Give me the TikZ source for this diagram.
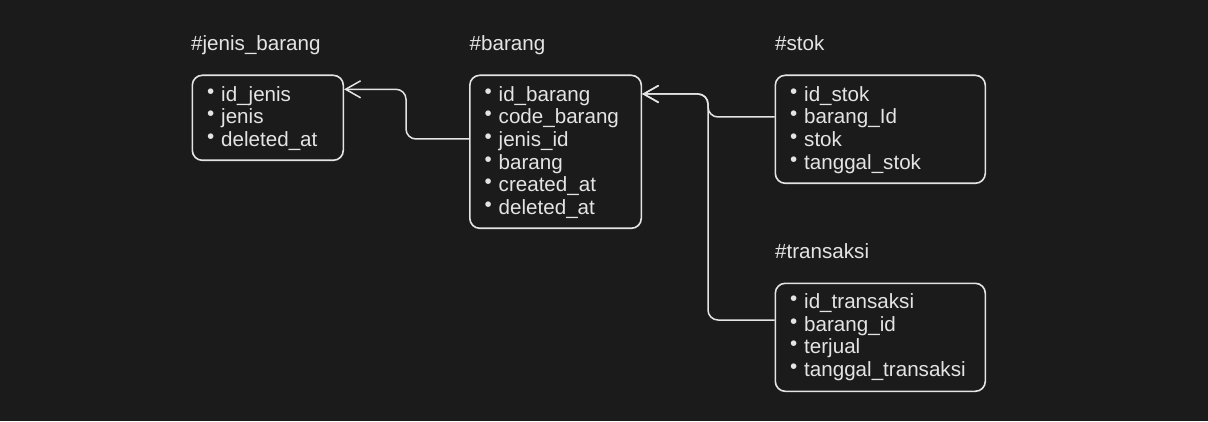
\documentclass[tikz,border=0pt]{standalone}
\usepackage{fontspec}
\setmainfont{Liberation Sans}
\usetikzlibrary{arrows.meta}
\definecolor{bg}{RGB}{27,27,27}
\definecolor{ink}{RGB}{228,228,228}
\newcommand\itembul{\makebox[14pt][l]{\raisebox{3pt}{•}}}
\begin{document}
\begin{tikzpicture}[x=1pt,y=1pt,
  box/.style={draw=ink, line width=1.6pt, rounded corners=10pt, anchor=north west, inner sep=0pt},
  items/.style={text=ink, align=left, anchor=north west, inner sep=0pt, font=\fontsize{20.6}{22.7}\selectfont},
  title/.style={text=ink, anchor=base west, inner sep=0pt, font=\fontsize{20.6}{24}\selectfont},
  conn/.style={draw=ink, line width=1.5pt, rounded corners=10pt, -{Straight Barb[length=15pt,width=17pt]}}
]
\fill[bg] (0,0) rectangle (1208,421);
\useasboundingbox (0,0) rectangle (1208,421);

% titles
\node[title] (tJenis) at (191,370) {\#jenis\_barang};
\node[title] (tBarang) at (469.5,370) {\#barang};
\node[title] (tStok) at (775,370) {\#stok};
\node[title] (tTrans) at (775,163) {\#transaksi};

% boxes
\node[box, minimum width=151pt, minimum height=85pt] (jenis) at (191.5,346.5) {};
\node[box, minimum width=171.5pt, minimum height=153pt] (barang) at (469,346.5) {};
\node[box, minimum width=210pt, minimum height=108pt] (stok) at (774.5,346.5) {};
\node[box, minimum width=210pt, minimum height=108pt] (transaksi) at (774.5,138.5) {};

% items
\node[items] (jenisT) at ([shift={(15.5,-11.5)}]jenis.north west) {\itembul id\_jenis\\\itembul jenis\\\itembul deleted\_at};
\node[items] (barangT) at ([shift={(15.5,-11.5)}]barang.north west) {\itembul id\_barang\\\itembul code\_barang\\\itembul jenis\_id\\\itembul barang\\\itembul created\_at\\\itembul deleted\_at};
\node[items] (stokT) at ([shift={(15.5,-11.5)}]stok.north west) {\itembul id\_stok\\\itembul barang\_Id\\\itembul stok\\\itembul tanggal\_stok};
\node[items] (transT) at ([shift={(15.5,-10.8)}]transaksi.north west) {\itembul id\_transaksi\\\itembul barang\_id\\\itembul terjual\\\itembul tanggal\_transaksi};

% connectors
\draw[conn] (barang.west |- 0,282) -- (406,282) |- (jenis.east |- 0,331.7);
\draw[conn] (stok.west |- 0,304) -- (708,304) |- (barang.east |- 0,327);
\draw[conn] (transaksi.west |- 0,101) -- (708,101) |- (barang.east |- 0,327);
\end{tikzpicture}
\end{document}
